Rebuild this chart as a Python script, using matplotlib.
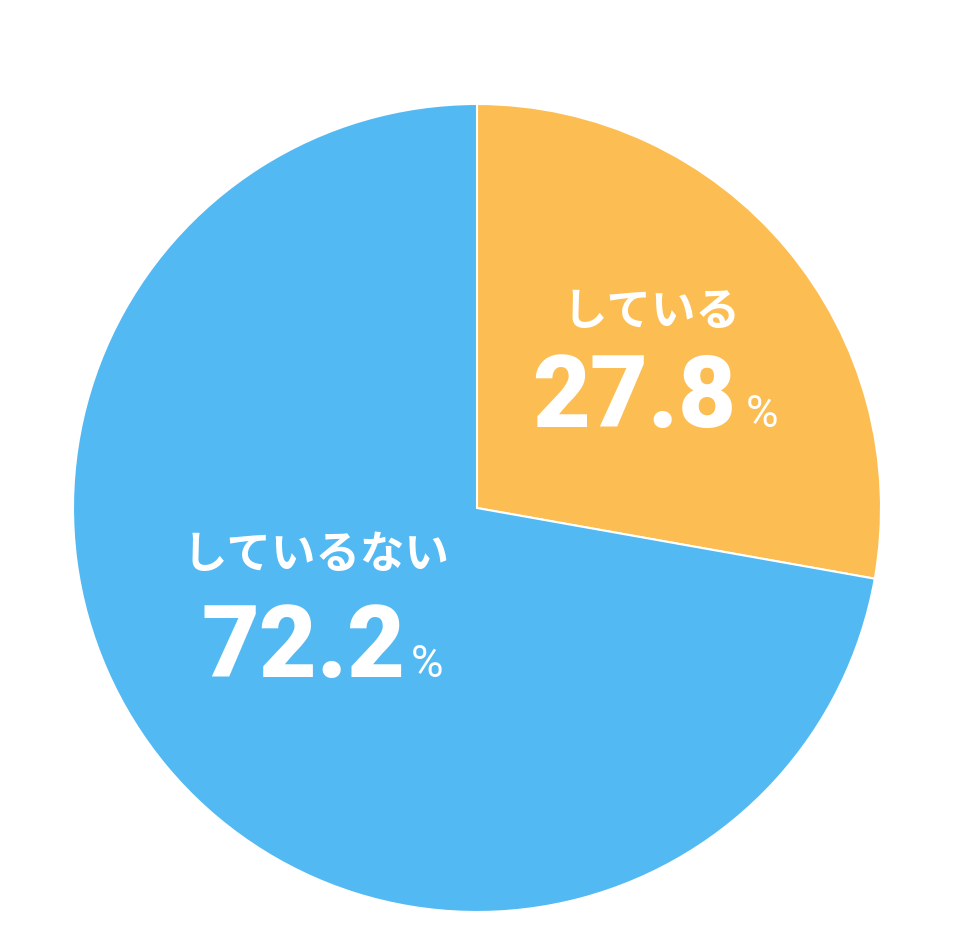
import matplotlib
matplotlib.use("Agg")
import matplotlib.pyplot as plt

labels = ["している", "しているない"]
values = [27.8, 72.2]
colors = ["#FCBE52", "#52B9F3"]

plt.rcParams['font.family'] = ['Noto Sans CJK JP', 'DejaVu Sans']
W, H = 958, 944
fig = plt.figure(figsize=(W/100, H/100), dpi=100)
ax = fig.add_axes([(477-404)/W, (436-404)/H, 808/W, 808/H])
ax.pie(values, colors=colors, startangle=90, counterclock=False,
       wedgeprops=dict(edgecolor="white", linewidth=1.5))
ax.set_xlim(-1.0, 1.0)
ax.set_ylim(-1.0, 1.0)
ax.set_aspect('equal')
ax.axis('off')

def t(x, y, s, size, ha="center", family=None, weight="bold"):
    fig.text(x/W, 1-y/H, s, fontsize=size, color="white", fontweight=weight,
             ha=ha, va="center", family=family or ['Noto Sans CJK JP', 'DejaVu Sans'])

num_font = ['Roboto', 'DejaVu Sans']
t(652, 312, labels[0], 32)
t(736, 400, f"{values[0]}", 72, ha="right", family=num_font, weight="black")
t(746, 415, "%", 32, ha="left", family=num_font, weight="normal")
t(316, 555, labels[1], 32)
t(406, 650, f"{values[1]}", 72, ha="right", family=num_font, weight="black")
t(411, 665, "%", 32, ha="left", family=num_font, weight="normal")

fig.savefig("out.png", dpi=100, facecolor="white")
